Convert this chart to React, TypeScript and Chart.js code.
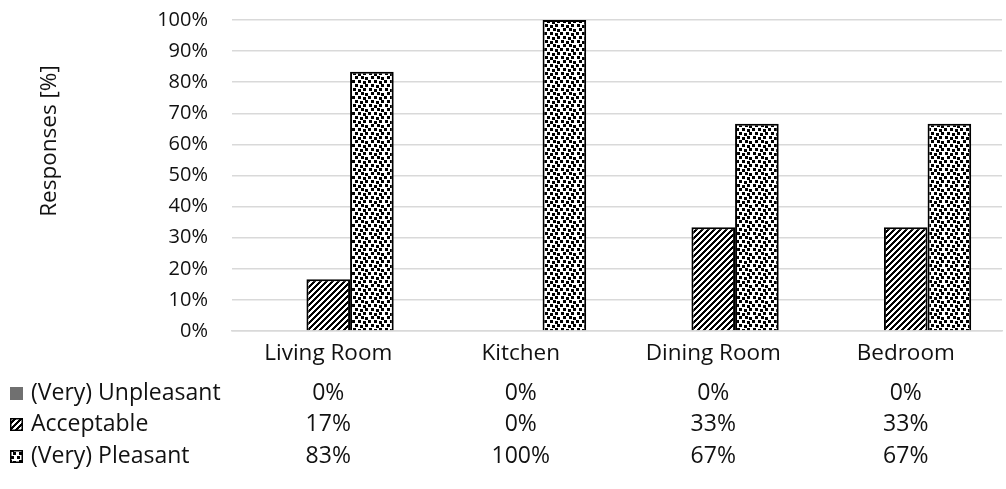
import { useEffect, useRef } from "react";
import { Chart, registerables } from "chart.js";

Chart.register(...registerables);

// Rooms and survey shares (percent of responses)
const categories = ["Living Room", "Kitchen", "Dining Room", "Bedroom"];
const seriesNames = ["(Very) Unpleasant", "Acceptable", "(Very) Pleasant"];
const unpleasant = [0, 0, 0, 0];
const acceptable = [16.67, 0, 33.33, 33.33];
const pleasant = [83.33, 100, 66.67, 66.67];
const yTickValues = [0, 10, 20, 30, 40, 50, 60, 70, 80, 90, 100];
const axisTitle = "Responses [%]";

const FONT = "'Open Sans', 'Noto Sans', sans-serif";
const TICK_SIZE = 20;
const LABEL_SIZE = 22.5;
const TABLE_SIZE = 23;
const TEXT = "#111";
const GRID = "#d9d9d9";
const SOLID_GREY = "#707070";

function makeHatch(): CanvasPattern | string {
  const c = document.createElement("canvas");
  c.width = 6;
  c.height = 6;
  const g = c.getContext("2d");
  if (!g) return "#555";
  g.fillStyle = "#fff";
  g.fillRect(0, 0, 6, 6);
  g.fillStyle = "#000";
  for (let y = 0; y < 6; y++) {
    for (let x = 0; x < 6; x++) {
      if ((x + y) % 6 < 3) g.fillRect(x, y, 1, 1);
    }
  }
  return g.createPattern(c, "repeat") || "#555";
}

function makeConfetti(): CanvasPattern | string {
  const c = document.createElement("canvas");
  c.width = 16;
  c.height = 16;
  const g = c.getContext("2d");
  if (!g) return "#888";
  g.fillStyle = "#fff";
  g.fillRect(0, 0, 16, 16);
  g.fillStyle = "#000";
  // staggered rows of small squares, slightly jittered
  const squares = [
    [0, 0], [6, 0], [11, 1],
    [3, 4], [8, 5], [13, 4],
    [1, 8], [6, 9], [11, 8],
    [3, 12], [9, 12], [13, 13],
  ];
  squares.forEach(([x, y]) => g.fillRect(x, y, 3, 3));
  return g.createPattern(c, "repeat") || "#888";
}

export default function App() {
  const ref = useRef<HTMLCanvasElement | null>(null);

  useEffect(() => {
    const canvas = ref.current;
    if (!canvas) return;
    const hatch = makeHatch();
    const confetti = makeConfetti();
    const series = [unpleasant, acceptable, pleasant];
    const fills: (CanvasPattern | string)[] = [SOLID_GREY, hatch, confetti];

    // Data table below the plot: legend keys, series names and rounded values
    const tablePlugin = {
      id: "dataTable",
      afterDraw(chart: Chart) {
        const ctx = chart.ctx;
        const x = chart.scales.x;
        const rowY = [393, 424, 456];
        ctx.save();
        ctx.font = `${TABLE_SIZE}px ${FONT}`;
        ctx.textBaseline = "middle";
        series.forEach((vals, r) => {
          const y = rowY[r];
          const kx = 10;
          const ky = y - 6;
          const ks = 13;
          ctx.fillStyle = fills[r] as any;
          ctx.fillRect(kx, ky, ks, ks);
          if (r > 0) {
            ctx.strokeStyle = "#000";
            ctx.lineWidth = 1.5;
            ctx.strokeRect(kx + 0.75, ky + 0.75, ks - 1.5, ks - 1.5);
          }
          ctx.fillStyle = TEXT;
          ctx.textAlign = "left";
          ctx.fillText(seriesNames[r], 31, y);
          ctx.textAlign = "center";
          vals.forEach((v, i) => {
            ctx.fillText(`${Math.round(v)}%`, x.getPixelForValue(i), y);
          });
        });
        // rotated value-axis title
        ctx.font = `${LABEL_SIZE}px ${FONT}`;
        ctx.translate(50, 141);
        ctx.rotate(-Math.PI / 2);
        ctx.textAlign = "center";
        ctx.fillStyle = TEXT;
        ctx.fillText(axisTitle, 0, 0);
        ctx.restore();
      },
    };

    const chart = new Chart(canvas, {
      type: "bar",
      data: {
        labels: categories,
        datasets: series.map((vals, i) => ({
          label: seriesNames[i],
          data: vals,
          backgroundColor: fills[i] as any,
          borderColor: "#000",
          borderWidth: i === 0 ? 0 : 2,
          categoryPercentage: 0.68,
          barPercentage: 1.0,
        })),
      },
      options: {
        responsive: false,
        animation: false,
        devicePixelRatio: 1,
        layout: { padding: { left: 0, right: 4, top: 20, bottom: 0 } },
        plugins: {
          legend: { display: false },
          tooltip: { enabled: false },
        },
        scales: {
          x: {
            grid: { display: false, drawTicks: false },
            border: { display: true, color: GRID, width: 1.5 },
            ticks: {
              color: TEXT,
              font: { family: FONT, size: LABEL_SIZE },
              padding: 9,
              maxRotation: 0,
            },
            afterFit(s: any) {
              s.height = 158;
            },
          },
          y: {
            min: 0,
            max: 100,
            afterBuildTicks(s: any) {
              s.ticks = yTickValues.map((v) => ({ value: v }));
            },
            grid: { color: GRID, lineWidth: 1.5, drawTicks: false },
            border: { display: false },
            ticks: {
              color: TEXT,
              font: { family: FONT, size: TICK_SIZE },
              padding: 24,
              callback: (v: any) => `${v}%`,
            },
            afterFit(s: any) {
              s.width = 232;
              s.paddingTop = 0;
              s.paddingBottom = 0;
            },
          },
        },
      },
      plugins: [tablePlugin],
    });

    return () => chart.destroy();
  }, []);

  return (
    <div style={{ position: "fixed", left: 0, top: 0, width: 1006, height: 489, background: "#fff" }}>
      <canvas ref={ref} width={1006} height={489} />
    </div>
  );
}
